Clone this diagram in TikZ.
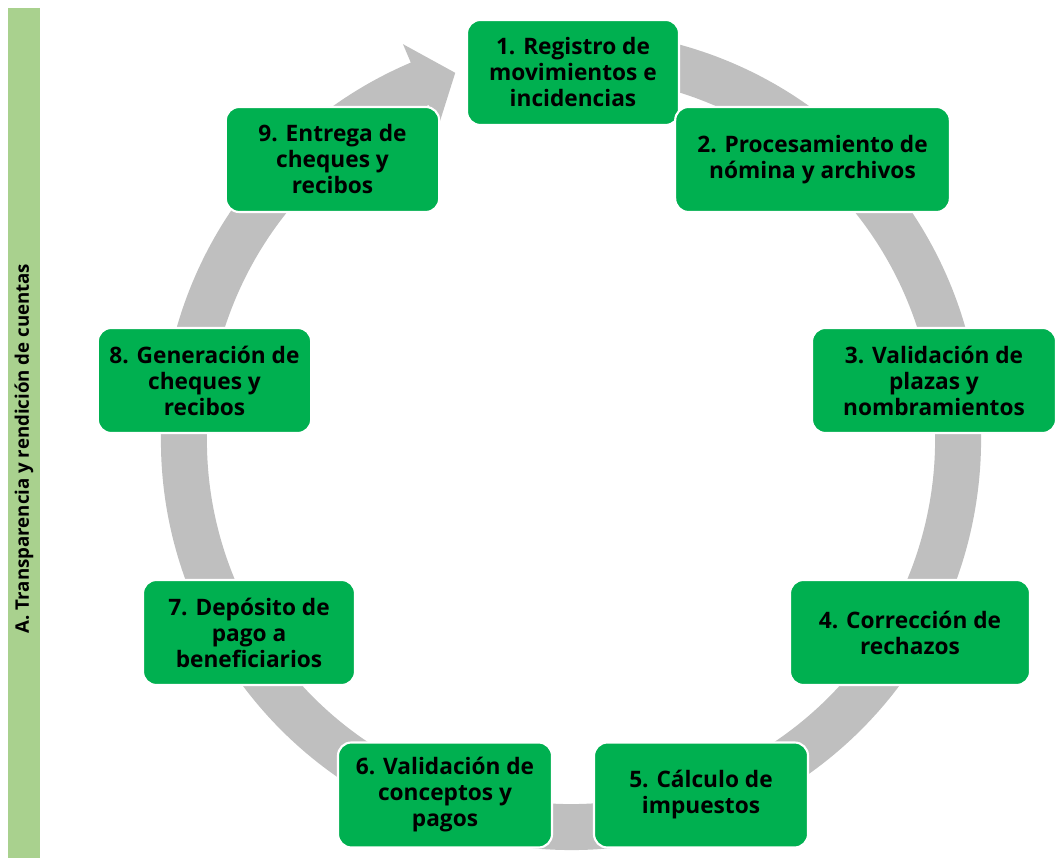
\documentclass[tikz,border=0pt]{standalone}
\usepackage{fontspec}
\setmainfont{Open Sans}
\usetikzlibrary{calc}
\definecolor{pasoverde}{HTML}{00B050}
\definecolor{barraverde}{HTML}{A9D18E}
\definecolor{anillogris}{HTML}{BFBFBF}

\begin{document}
\begin{tikzpicture}[x=0.75pt, y=0.75pt,
	paso/.style={draw=white, line width=1.6pt, fill=pasoverde, rounded corners=10pt, align=center, inner sep=0pt,
		minimum height=78.75pt, font=\bfseries\fontsize{17}{19.5}\selectfont}]
\useasboundingbox (0,0) rectangle (1056,863);
% barra lateral
\fill[barraverde] (8,5) rectangle (40,855);
\node[rotate=90, font=\bfseries\fontsize{14}{16}\selectfont] (barra) at (24,414.5) {A. Transparencia y rendici\'on de cuentas};
% anillo con flecha
\coordinate (c) at (571,423);
\fill[anillogris] ($(c)+(80:410)$) arc[start angle=80, end angle=-247, radius=410]
	-- ($(c)+(113:430)$) -- ($(c)+(107.5:385)$) -- ($(c)+(113:340)$) -- ($(c)+(113:364)$)
	arc[start angle=-247, end angle=80, radius=364] -- cycle;
% pasos
\node[paso, minimum width=159pt] (p1) at (573,790.5) {1. Registro de\\movimientos e\\incidencias};
\node[paso, minimum width=206pt] (p2) at (812.5,703.5) {2. Procesamiento de\\n\'omina y archivos};
\node[paso, minimum width=183pt] (p3) at (934,482.5) {3. Validaci\'on de\\plazas y\\nombramientos};
\node[paso, minimum width=180pt] (p4) at (910,230.5) {4. Correcci\'on de\\rechazos};
\node[paso, minimum width=160.5pt] (p5) at (701,68) {5. C\'alculo de\\impuestos};
\node[paso, minimum width=160.5pt] (p6) at (445,68) {6. Validaci\'on de\\conceptos y\\pagos};
\node[paso, minimum width=159pt] (p7) at (249,230.5) {7. Dep\'osito de\\pago a\\beneficiarios};
\node[paso, minimum width=160pt] (p8) at (204.5,482.5) {8. Generaci\'on de\\cheques y\\recibos};
\node[paso, minimum width=160pt] (p9) at (332.5,703.5) {9. Entrega de\\cheques y\\recibos};
\end{tikzpicture}
\end{document}
